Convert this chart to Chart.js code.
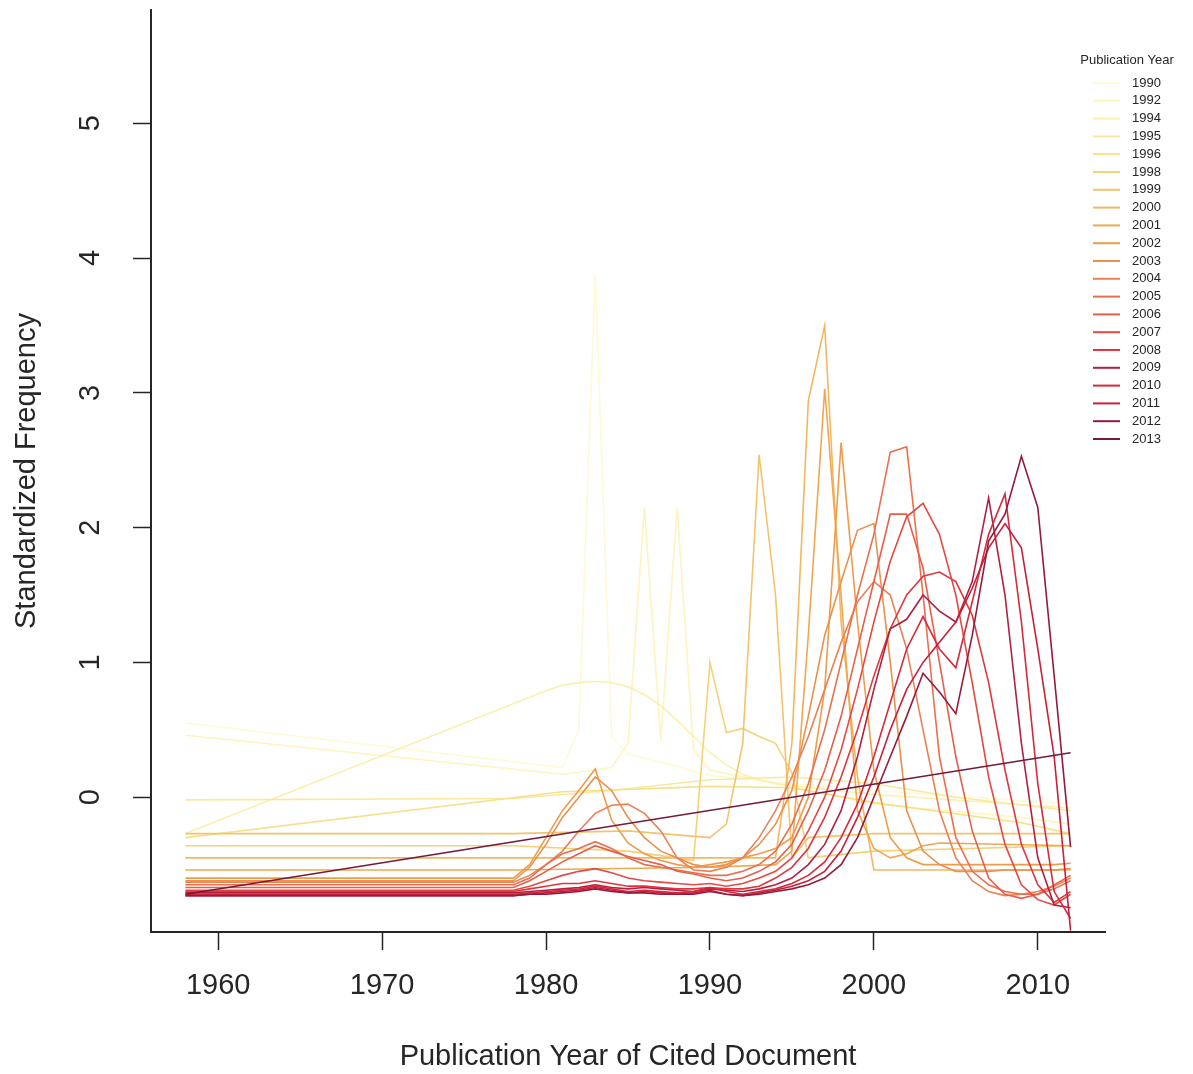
<!DOCTYPE html>
<html>
<head>
<meta charset="utf-8">
<title>Standardized Frequency by Publication Year of Cited Document</title>
<script src="https://cdn.jsdelivr.net/npm/chart.js@4.4.1/dist/chart.umd.min.js"></script>
<style>
  html, body { margin: 0; padding: 0; background: #ffffff; }
  #plot { display: block; }
</style>
</head>
<body>
<canvas id="plot" width="1193" height="1074"></canvas>
<script>
// Cited-document years shared by every series (values before 1978 are pooled at 1958).
const citedYears = [1958,
  1978, 1979, 1980, 1981, 1982, 1983, 1984, 1985, 1986, 1987,
  1988, 1989, 1990, 1991, 1992, 1993, 1994, 1995, 1996, 1997,
  1998, 1999, 2000, 2001, 2002, 2003, 2004, 2005, 2006, 2007,
  2008, 2009, 2010, 2011, 2012];

const pubYears = ['1990', '1992', '1994', '1995', '1996', '1998', '1999', '2000', '2001', '2002',
  '2003', '2004', '2005', '2006', '2007', '2008', '2009', '2010', '2011', '2012', '2013'];

const xTickValues = [1960, 1970, 1980, 1990, 2000, 2010];
const yTickValues = [0, 1, 2, 3, 4, 5];

const _ = null; // no observation for that cited year

const v1990 = [0.55,
  _, _, _, 0.22, 0.50, 3.88, 0.45, 0.32, _, 0.26,
  _, _, 0.16, _, _, _, _, 0.10, _, _,
  _, _, 0.05, _, _, _, _, _, _, _,
  _, _, _, _, -0.05];
const v1992 = [0.46,
  _, _, _, 0.17, _, _, 0.22, 0.40, 2.15, 0.42,
  2.15, 0.35, 0.20, _, _, _, _, 0.08, _, _,
  _, _, -0.05, _, _, _, _, _, _, _,
  _, -0.15, _, _, -0.20];
const v1994 = [-0.27,
  _, _, 0.79, 0.83, 0.85, 0.86, 0.85, 0.82, 0.76, 0.68,
  0.57, 0.45, 0.33, 0.24, 0.17, 0.13, 0.10, _, _, _,
  _, _, 0.02, _, _, _, _, _, _, _,
  _, _, _, _, -0.08];
const v1995 = [-0.02,
  -0.01, _, _, _, _, _, 0.05, _, _, _,
  _, _, 0.13, _, _, _, _, 0.15, _, _,
  _, _, 0.10, _, _, _, _, 0.00, _, _,
  _, _, _, _, -0.10];
const v1996 = [-0.30,
  _, _, _, 0.04, _, _, _, _, _, _,
  _, _, 0.08, _, _, _, _, 0.07, _, _,
  _, _, -0.04, _, _, _, _, _, _, _,
  _, -0.19, _, _, -0.27];
const v1998 = [-0.36,
  -0.36, _, _, _, _, _, _, -0.40, _, _,
  -0.45, -0.47, 1.00, 0.48, 0.51, 0.45, 0.40, 0.18, -0.45, _,
  _, _, -0.40, _, _, _, _, _, _, _,
  _, _, _, _, -0.36];
const v1999 = [-0.27,
  -0.27, _, _, _, _, _, _, -0.25, _, _,
  _, _, -0.30, -0.20, 0.40, 2.54, 1.50, -0.45, -0.30, _,
  _, _, -0.27, _, _, _, _, _, _, _,
  _, _, _, _, -0.27];
const v2000 = [-0.45,
  -0.45, _, _, _, _, _, _, _, _, _,
  _, _, -0.45, _, _, _, -0.45, 0.40, 2.94, 3.50,
  1.30, 0.15, -0.54, -0.54, _, _, _, _, _, _,
  _, _, _, _, -0.54];
const v2001 = [-0.54,
  -0.54, _, _, _, _, _, _, _, _, _,
  _, _, -0.52, _, _, _, -0.50, -0.40, 1.20, 3.03,
  1.50, -0.10, -0.38, -0.45, -0.42, -0.36, -0.34, _, _, _,
  _, _, _, _, -0.36];
const v2002 = [-0.60,
  -0.60, -0.50, -0.30, -0.10, 0.05, 0.21, -0.17, -0.34, -0.42, -0.47,
  -0.50, -0.52, -0.50, -0.48, -0.45, -0.42, -0.38, -0.30, 0.00, 0.80,
  2.63, 1.30, 0.20, -0.30, -0.45, -0.50, -0.50, -0.50, -0.50, -0.50,
  -0.50, -0.50, -0.50, -0.50, -0.49];
const v2003 = [-0.62,
  -0.62, -0.52, -0.35, -0.15, 0.00, 0.15, 0.05, -0.15, -0.30, -0.40,
  -0.45, -0.50, -0.52, -0.50, -0.45, -0.35, -0.20, 0.05, 0.60, 1.20,
  1.60, 1.98, 2.03, 1.00, -0.10, -0.40, -0.50, -0.55, -0.55, -0.55,
  -0.54, -0.54, -0.54, -0.54, -0.53];
const v2004 = [-0.63,
  -0.63, -0.58, -0.50, -0.40, -0.25, -0.12, -0.06, -0.05, -0.12, -0.25,
  -0.45, -0.54, -0.55, -0.52, -0.45, -0.30, -0.10, 0.15, 0.45, 0.80,
  1.15, 1.45, 1.60, 1.50, 1.10, 0.50, -0.10, -0.45, -0.62, -0.70,
  -0.73, -0.72, -0.70, -0.66, -0.60];
const v2005 = [-0.65,
  -0.65, -0.60, -0.50, -0.42, -0.38, -0.33, -0.38, -0.45, -0.50, -0.52,
  -0.54, -0.56, -0.58, -0.58, -0.55, -0.50, -0.40, -0.20, 0.10, 0.50,
  1.00, 1.50, 1.95, 2.56, 2.60, 1.50, 0.30, -0.30, -0.55, -0.65,
  -0.70, -0.72, -0.72, -0.68, -0.62];
const v2006 = [-0.67,
  -0.67, -0.62, -0.55, -0.48, -0.42, -0.36, -0.40, -0.44, -0.47, -0.50,
  -0.55, -0.57, -0.60, -0.62, -0.60, -0.55, -0.48, -0.35, -0.10, 0.20,
  0.60, 1.10, 1.60, 2.10, 2.10, 1.70, 1.00, 0.30, -0.25, -0.60,
  -0.72, -0.75, -0.72, -0.65, -0.58];
const v2007 = [-0.69,
  -0.69, -0.66, -0.62, -0.58, -0.55, -0.53, -0.56, -0.60, -0.62, -0.63,
  -0.64, -0.65, -0.64, -0.66, -0.64, -0.60, -0.55, -0.45, -0.25, 0.00,
  0.35, 0.80, 1.30, 1.75, 2.08, 2.18, 1.95, 1.50, 0.85, 0.15,
  -0.35, -0.65, -0.76, -0.80, -0.72];
const v2008 = [-0.70,
  -0.70, -0.68, -0.66, -0.64, -0.64, -0.62, -0.64, -0.66, -0.66, -0.67,
  -0.68, -0.68, -0.67, -0.68, -0.68, -0.66, -0.60, -0.52, -0.38, -0.15,
  0.15, 0.50, 0.90, 1.25, 1.50, 1.64, 1.67, 1.60, 1.35, 0.85,
  0.20, -0.35, -0.65, -0.78, -0.70];
const v2009 = [-0.71,
  -0.71, -0.70, -0.69, -0.68, -0.67, -0.65, -0.67, -0.68, -0.67, -0.68,
  -0.69, -0.70, -0.68, -0.69, -0.70, -0.68, -0.65, -0.60, -0.50, -0.35,
  -0.10, 0.30, 0.80, 1.25, 1.32, 1.50, 1.38, 1.30, 1.60, 2.22,
  1.50, 0.40, -0.45, -0.80, -0.82];
const v2010 = [-0.72,
  -0.72, -0.71, -0.70, -0.69, -0.68, -0.66, -0.68, -0.70, -0.69, -0.70,
  -0.71, -0.70, -0.67, -0.70, -0.72, -0.70, -0.68, -0.64, -0.58, -0.48,
  -0.30, -0.05, 0.30, 0.70, 1.10, 1.34, 1.10, 0.96, 1.45, 1.95,
  2.25, 1.30, 0.10, -0.70, -0.90];
const v2011 = [-0.73,
  -0.73, -0.72, -0.71, -0.70, -0.69, -0.67, -0.69, -0.71, -0.70, -0.71,
  -0.72, -0.71, -0.69, -0.72, -0.73, -0.71, -0.69, -0.66, -0.62, -0.55,
  -0.40, -0.15, 0.15, 0.50, 0.80, 1.00, 1.15, 1.30, 1.55, 1.85,
  2.03, 1.85, 1.10, 0.30, -0.99];
const v2012 = [-0.73,
  -0.73, -0.72, -0.72, -0.71, -0.70, -0.68, -0.70, -0.71, -0.71, -0.72,
  -0.72, -0.72, -0.70, -0.72, -0.73, -0.72, -0.70, -0.68, -0.65, -0.60,
  -0.50, -0.30, 0.00, 0.30, 0.60, 0.92, 0.78, 0.62, 1.20, 1.90,
  2.10, 2.53, 2.15, 0.90, -0.37];
const v2013 = [-0.72,
  _, _, _, _, _, _, _, _, _, _,
  _, _, _, _, _, _, _, _, _, _,
  _, _, _, _, _, _, _, _, _, _,
  _, _, _, _, 0.33];

const seriesValues = [v1990, v1992, v1994, v1995, v1996, v1998, v1999, v2000, v2001, v2002,
  v2003, v2004, v2005, v2006, v2007, v2008, v2009, v2010, v2011, v2012, v2013];

// Pale yellow through orange and red to dark maroon, oldest to newest.
const lineColors = ['#fefad6', '#fdf5c0', '#fbf0ae', '#f9e99e', '#f7e08c', '#f5d27a', '#f3c46c',
  '#f2b860', '#f0a84f', '#ee9c4a', '#e9914e', '#ec8055', '#e8704f', '#e65f4a', '#e44a42',
  '#df363e', '#b02040', '#d52a3c', '#c8203a', '#961a3c', '#741a3e'];

const FONT = '"Liberation Sans", Arial, Helvetica, sans-serif';
const INK = '#262626';

const datasets = seriesValues.map((vals, i) => ({
  label: pubYears[i],
  data: citedYears.map((yr, k) => ({ x: yr, y: vals[k] })).filter(p => p.y !== null),
  borderColor: lineColors[i],
  backgroundColor: lineColors[i],
  borderWidth: 1.6,
  pointRadius: 0,
  tension: 0,
  fill: false,
  order: seriesValues.length - i
}));

// Rotated y tick labels and the key in the top-right corner.
const annotations = {
  id: 'annotations',
  afterDraw(chart) {
    const ctx = chart.ctx;
    const yScale = chart.scales.y;
    ctx.save();
    ctx.fillStyle = INK;
    ctx.font = '29px ' + FONT;
    ctx.textAlign = 'center';
    ctx.textBaseline = 'middle';
    yTickValues.forEach(v => {
      ctx.save();
      ctx.translate(91, yScale.getPixelForValue(v));
      ctx.rotate(-Math.PI / 2);
      ctx.fillText(String(v), 0, 0);
      ctx.restore();
    });

    ctx.font = '13px ' + FONT;
    ctx.textAlign = 'center';
    ctx.fillText('Publication Year', 1127, 60);
    ctx.textAlign = 'left';
    pubYears.forEach((label, i) => {
      const y = 83 + i * 17.8;
      ctx.strokeStyle = lineColors[i];
      ctx.lineWidth = 2;
      ctx.beginPath();
      ctx.moveTo(1093, y);
      ctx.lineTo(1120, y);
      ctx.stroke();
      ctx.fillStyle = INK;
      ctx.fillText(label, 1132, y);
    });
    ctx.restore();
  }
};

const axisGrid = {
  display: true,
  drawOnChartArea: false,
  drawTicks: true,
  tickLength: 18,
  tickWidth: 1.5,
  tickColor: INK
};
const axisBorder = { display: true, color: INK, width: 2 };

new Chart(document.getElementById('plot'), {
  type: 'line',
  data: { datasets },
  plugins: [annotations],
  options: {
    responsive: false,
    animation: false,
    devicePixelRatio: 1,
    layout: { padding: { top: 10, right: 88, left: 0, bottom: 0 } },
    plugins: { legend: { display: false }, tooltip: { enabled: false } },
    scales: {
      x: {
        type: 'linear',
        min: 1955.9,
        max: 2014.1,
        afterBuildTicks: ax => { ax.ticks = xTickValues.map(v => ({ value: v })); },
        afterFit: ax => { ax.height = 142; },
        grid: axisGrid,
        border: axisBorder,
        ticks: {
          font: { family: FONT, size: 29 },
          color: INK,
          padding: 19,
          maxRotation: 0,
          autoSkip: false,
          callback: v => String(v)
        },
        title: {
          display: true,
          text: 'Publication Year of Cited Document',
          font: { family: FONT, size: 29 },
          color: INK,
          padding: { top: 0, bottom: 0 }
        }
      },
      y: {
        type: 'linear',
        min: -1,
        max: 5.84,
        afterBuildTicks: ax => { ax.ticks = yTickValues.map(v => ({ value: v })); },
        afterFit: ax => { ax.width = 151; },
        grid: axisGrid,
        border: axisBorder,
        ticks: { display: false },
        title: {
          display: true,
          text: 'Standardized Frequency',
          font: { family: FONT, size: 29 },
          color: INK,
          padding: { top: 10, bottom: 0 }
        }
      }
    }
  }
});
</script>
</body>
</html>
